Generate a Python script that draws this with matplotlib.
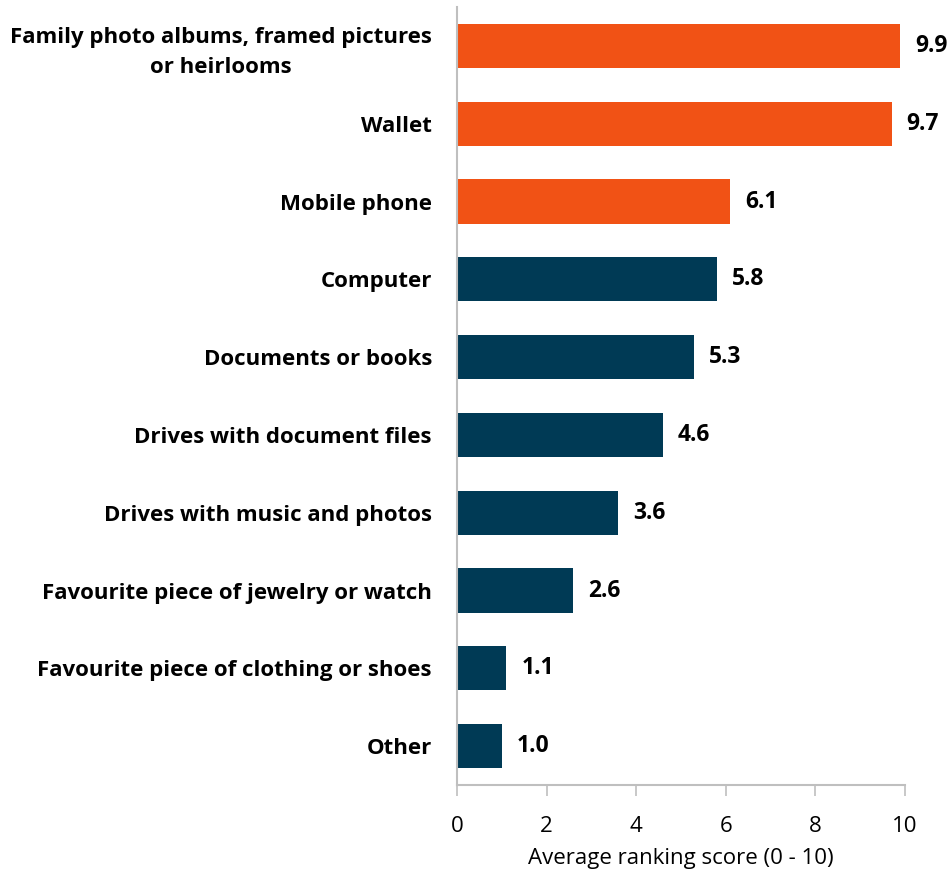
import matplotlib
matplotlib.use("Agg")
import matplotlib.pyplot as plt

categories = ["Family photo albums, framed pictures\nor heirlooms", "Wallet", "Mobile phone",
              "Computer", "Documents or books", "Drives with document files",
              "Drives with music and photos", "Favourite piece of jewelry or watch",
              "Favourite piece of clothing or shoes", "Other"]
values = [9.9, 9.7, 6.1, 5.8, 5.3, 4.6, 3.6, 2.6, 1.1, 1.0]
highlight = [True, True, True, False, False, False, False, False, False, False]
xticks = [0, 2, 4, 6, 8, 10]

ORANGE = "#F15215"
NAVY = "#003A55"
GRID = "#BFBFBF"

plt.rcParams['font.family'] = ['Open Sans', 'DejaVu Sans']

fig = plt.figure(figsize=(9.52, 8.74), dpi=100)
ax = fig.add_axes([0.480, 0.1018, 0.4706, 0.8902])

ypos = list(range(len(categories)))
colors = [ORANGE if h else NAVY for h in highlight]
ax.barh(ypos, values, height=0.57, color=colors)
ax.set_ylim(len(categories) - 0.5, -0.5)
ax.set_xlim(0, 10)

for y, v in zip(ypos, values):
    ax.annotate(f"{v:.1f}", (v, y), xytext=(15, 0), textcoords="offset pixels",
                va="center", ha="left", fontsize=16.5, fontweight="bold", color="#000000")

ax.set_yticks(ypos)
ax.set_yticklabels(categories, fontsize=16, fontweight="bold")
ax.tick_params(axis="y", length=0, pad=18)
for lbl in ax.get_yticklabels():
    lbl.set_multialignment("center")
    lbl.set_linespacing(1.55)

ax.set_xticks(xticks)
ax.set_xticklabels([str(t) for t in xticks], fontsize=16)
ax.tick_params(axis="x", length=8, width=1.2, color=GRID, pad=14)
ax.set_xlabel("Average ranking score (0 - 10)", fontsize=16, labelpad=8)

for s in ["top", "right"]:
    ax.spines[s].set_visible(False)
for s in ["left", "bottom"]:
    ax.spines[s].set_color(GRID)
    ax.spines[s].set_linewidth(1.5)

fig.savefig("out.png", dpi=100)
